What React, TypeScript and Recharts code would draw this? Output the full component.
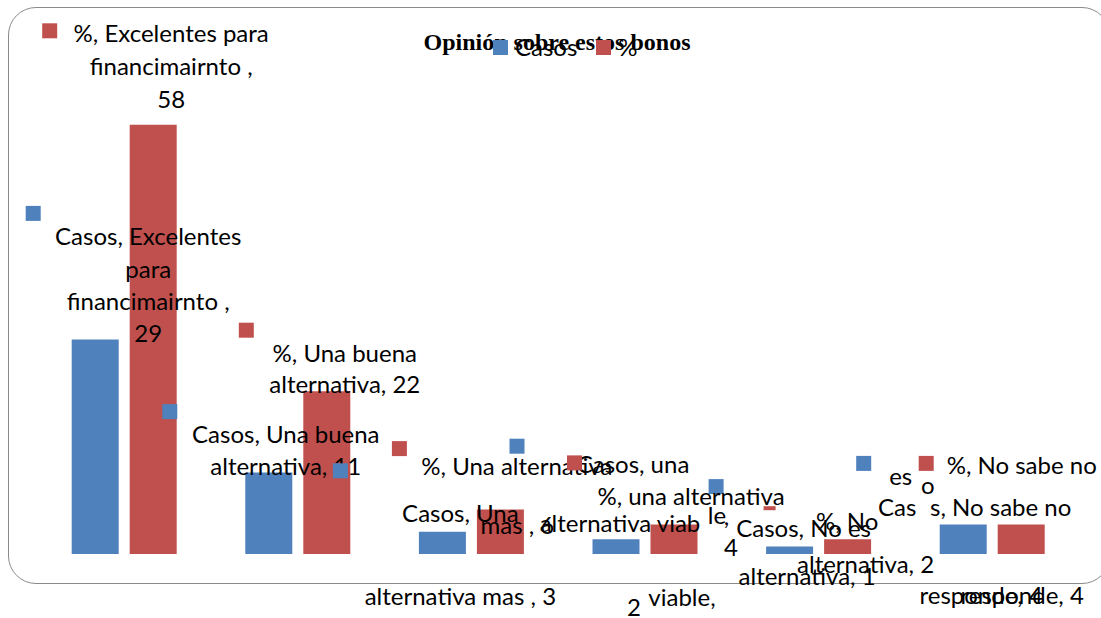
import { Bar, BarChart, LabelList, Legend, XAxis, YAxis } from "recharts"

const categories = [
  "Excelentes para financimairnto",
  "Una buena alternativa",
  "Una alternativa mas",
  "una alternativa viable",
  "No es alternativa",
  "No sabe no responde",
]
const casos = [29, 11, 3, 2, 1, 4]
const porcentaje = [58, 22, 6, 4, 2, 4]
const yTicks = [0, 60]

const BLUE = "#4F81BD"
const RED = "#C0504D"
const FONT = "Lato, 'Open Sans', sans-serif"
const FONT_SIZE = 24

type LabelLayout = {
  marker: [number, number, number, number]
  lines: [string, number, number][]
}

// Excel-style scattered data labels: offsets from the top centre of each bar
const casosLabels: LabelLayout[] = [
  {
    marker: [-62, -126, 15, 15],
    lines: [
      ["Casos, Excelentes", 53, -103.5],
      ["para", 53, -71],
      ["financimairnto ,", 53, -39],
      ["{v}", 53, -7],
    ],
  },
  {
    marker: [-99, -61, 15, 15],
    lines: [
      ["Casos, Una buena", 17, -39.5],
      ["alternativa, {v}", 17, -7.5],
    ],
  },
  {
    marker: [-102, -61, 15, 15],
    lines: [
      ["Casos, Una", 18, -19],
      ["alternativa mas , {v}", 18, 63.5],
    ],
  },
  {
    marker: [-99, -93, 15, 15],
    lines: [
      ["Casos, una", 17, -76],
      ["alternativa viab", 4, -16.5],
      ["viable,", 66, 57],
      ["{v}", 18, 67],
    ],
  },
  {
    marker: [-73.5, -60, 15, 15],
    lines: [
      ["Casos, No es", 14, -19.5],
      ["alternativa, {v}", 17.5, 28.5],
    ],
  },
  {
    marker: [-99.5, -61, 15, 15],
    lines: [
      ["es", -62.5, -48.5],
      ["o", -35.5, -39.5],
      ["Cas", -66, -17.5],
      ["s, No sabe no", 37.5, -17.5],
      ["responde, {v}", 18, 70.5],
    ],
  },
]

const porcentajeLabels: LabelLayout[] = [
  {
    marker: [-103.5, -94, 15, 15],
    lines: [
      ["%, Excelentes para", 18, -92],
      ["financimairnto ,", 18, -59],
      ["{v}", 18, -26],
    ],
  },
  {
    marker: [-80.5, -61, 15, 15],
    lines: [
      ["%, Una buena", 18, -38.5],
      ["alternativa, {v}", 18, -7.5],
    ],
  },
  {
    marker: [-101, -61, 15, 15],
    lines: [
      ["%, Una alternativa", 16.5, -44.5],
      ["mas , {v}", 17, 15],
    ],
  },
  {
    marker: [-99.5, -61.5, 15, 15],
    lines: [
      ["%, una alternativa", 17, -28.5],
      ["le", 43, -9.5],
      [",", 52.5, -8.5],
      ["{v}", 57, 22.5],
    ],
  },
  {
    marker: [-78, -31, 12, 4],
    lines: [
      ["%, No", -0.5, -19],
      ["alternativa, {v}", 18, 24.5],
    ],
  },
  {
    marker: [-95, -61, 15, 15],
    lines: [
      ["%, No sabe no", 0.5, -59.5],
      ["responde, {v}", 1, 70.5],
    ],
  },
]

const data = categories.map((name, i) => ({
  name,
  casos: casos[i],
  pct: porcentaje[i],
}))

function makeLabel(layouts: LabelLayout[], color: string) {
  return (props: any) => {
    const vb = props.viewBox ?? {}
    const x = Number(props.x ?? vb.x)
    const y = Number(props.y ?? vb.y)
    const width = Number(props.width ?? vb.width)
    const layout = layouts[props.index]
    if (!layout) return null
    const cx = x + width / 2
    const [mx, my, mw, mh] = layout.marker
    return (
      <g>
        <rect x={cx + mx - mw / 2} y={y + my - mh / 2} width={mw} height={mh} fill={color} />
        {layout.lines.map(([t, dx, dy], k) => (
          <text
            key={k}
            x={cx + dx}
            y={y + dy}
            textAnchor="middle"
            dominantBaseline="central"
            fontFamily={FONT}
            fontSize={FONT_SIZE}
            fill="#000"
          >
            {t.replace("{v}", String(props.value))}
          </text>
        ))}
      </g>
    )
  }
}

function renderLegend() {
  const items = [
    { label: "Casos", color: BLUE },
    { label: "%", color: RED },
  ]
  return (
    <div style={{ display: "flex", alignItems: "center", height: 24, fontFamily: FONT, fontSize: FONT_SIZE }}>
      {items.map((it) => (
        <div key={it.label} style={{ display: "flex", alignItems: "center", marginRight: 19 }}>
          <span style={{ width: 15, height: 15, background: it.color, display: "inline-block" }} />
          <span style={{ marginLeft: 7, lineHeight: "24px", color: "#000" }}>{it.label}</span>
        </div>
      ))}
    </div>
  )
}

export default function App() {
  return (
    <div
      style={{
        position: "absolute",
        left: 0,
        top: 0,
        width: 1101,
        height: 618,
        overflow: "hidden",
        background: "#fff",
      }}
    >
      <div
        style={{
          position: "absolute",
          left: 8,
          top: 7,
          width: 1102,
          height: 577,
          boxSizing: "border-box",
          border: "1.5px solid #8a8a8a",
          borderRadius: 28,
        }}
      />
      <div
        style={{
          position: "absolute",
          left: 0,
          top: 29,
          width: 1114,
          textAlign: "center",
          fontFamily: "'Liberation Serif', serif",
          fontWeight: "bold",
          fontSize: 24,
          lineHeight: "26px",
          color: "#000",
        }}
      >
        Opinión sobre estos bonos
      </div>
      <BarChart
        width={1101}
        height={618}
        data={data}
        margin={{ top: 110, right: 21.7, left: 37.7, bottom: 64 }}
        barSize={47}
        barGap={11}
      >
        <XAxis dataKey="name" hide />
        <YAxis hide domain={[0, 60]} ticks={yTicks} />
        <Legend
          layout="horizontal"
          verticalAlign="middle"
          align="center"
          content={renderLegend}
          wrapperStyle={{ position: "absolute", left: 493, top: 35, width: "auto", height: 24 }}
        />
        <Bar dataKey="casos" name="Casos" fill={BLUE} isAnimationActive={false}>
          <LabelList dataKey="casos" content={makeLabel(casosLabels, BLUE)} />
        </Bar>
        <Bar dataKey="pct" name="%" fill={RED} isAnimationActive={false}>
          <LabelList dataKey="pct" content={makeLabel(porcentajeLabels, RED)} />
        </Bar>
      </BarChart>
    </div>
  )
}
